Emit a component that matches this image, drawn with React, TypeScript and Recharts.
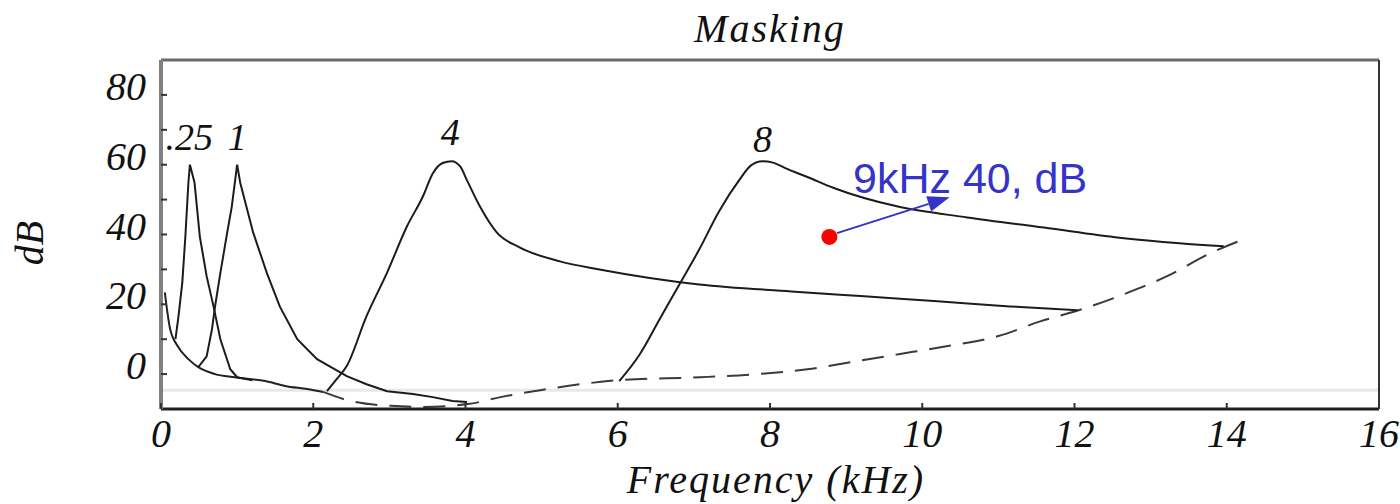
import React from 'react';
import { LineChart, Line, XAxis, YAxis, ReferenceLine, ReferenceDot } from 'recharts';

// threshold in quiet: solid part at low frequencies, dashed above ~2 kHz
const thresholdSolid = [
  { f: 0.05, db: 23.4 }, { f: 0.12, db: 12.9 }, { f: 0.22, db: 8 }, { f: 0.36, db: 4.3 },
  { f: 0.49, db: 2 }, { f: 0.71, db: 0 }, { f: 0.97, db: -0.9 }, { f: 1.37, db: -2 },
  { f: 1.63, db: -3.4 }, { f: 1.92, db: -4.3 }, { f: 2.13, db: -5.1 },
];

const thresholdDashed = [
  { f: 2.13, db: -5.1 }, { f: 2.49, db: -7.7 }, { f: 3.02, db: -9.1 }, { f: 3.45, db: -9.4 },
  { f: 4.03, db: -8.6 }, { f: 4.46, db: -6.6 }, { f: 4.98, db: -4.6 }, { f: 5.51, db: -2.9 },
  { f: 6.03, db: -1.7 }, { f: 7.08, db: -0.9 }, { f: 7.83, db: 0 }, { f: 8.49, db: 1.4 },
  { f: 9.14, db: 3.7 }, { f: 9.69, db: 5.7 }, { f: 10.24, db: 7.7 }, { f: 11.0, db: 10.9 },
  { f: 11.55, db: 15.1 }, { f: 12.1, db: 18.6 }, { f: 12.71, db: 23.4 }, { f: 13.21, db: 28 },
  { f: 13.81, db: 34.9 }, { f: 14.22, db: 38.6 },
];

const masker025 = [
  { f: 0.19, db: 10 }, { f: 0.23, db: 16.6 }, { f: 0.28, db: 26.3 }, { f: 0.32, db: 39.4 },
  { f: 0.36, db: 54.9 }, { f: 0.38, db: 60 }, { f: 0.44, db: 54.9 }, { f: 0.51, db: 39.4 },
  { f: 0.6, db: 28 }, { f: 0.69, db: 19.4 }, { f: 0.78, db: 10 }, { f: 0.91, db: 1.4 },
  { f: 1.0, db: -0.9 }, { f: 1.2, db: -1.8 },
];

const masker1 = [
  { f: 0.49, db: 2 }, { f: 0.6, db: 5.1 }, { f: 0.67, db: 12.9 }, { f: 0.71, db: 19.4 },
  { f: 0.78, db: 29 }, { f: 0.87, db: 40.6 }, { f: 0.93, db: 48 }, { f: 1.0, db: 60 },
  { f: 1.04, db: 54.9 }, { f: 1.21, db: 40.6 }, { f: 1.39, db: 29 }, { f: 1.56, db: 19.4 },
  { f: 1.79, db: 10 }, { f: 2.05, db: 4.3 }, { f: 2.44, db: -0.6 }, { f: 2.7, db: -2.9 },
  { f: 2.97, db: -4.9 }, { f: 3.31, db: -5.7 }, { f: 3.57, db: -6.6 }, { f: 3.83, db: -7.7 },
  { f: 4.02, db: -8 },
];

const masker4 = [
  { f: 2.18, db: -4.9 }, { f: 2.31, db: -1.4 }, { f: 2.44, db: 2.3 }, { f: 2.7, db: 16.6 },
  { f: 2.97, db: 29.1 }, { f: 3.23, db: 42.3 }, { f: 3.44, db: 50.9 }, { f: 3.57, db: 57.5 },
  { f: 3.7, db: 60.5 }, { f: 3.82, db: 61 }, { f: 3.93, db: 59.5 }, { f: 4.02, db: 55.5 },
  { f: 4.19, db: 48 }, { f: 4.41, db: 40.6 }, { f: 4.71, db: 36.3 }, { f: 5.24, db: 32.3 },
  { f: 5.76, db: 30 }, { f: 7.07, db: 25.7 }, { f: 8.28, db: 23.7 }, { f: 9.24, db: 22.3 },
  { f: 10.2, db: 20.9 }, { f: 11.15, db: 19.4 }, { f: 12.04, db: 18.3 },
];

const masker8 = [
  { f: 6.02, db: -2 }, { f: 6.29, db: 5.7 }, { f: 6.55, db: 15.7 }, { f: 6.81, db: 25.7 },
  { f: 7.07, db: 35.7 }, { f: 7.33, db: 46.6 }, { f: 7.6, db: 55.7 }, { f: 7.75, db: 59.8 },
  { f: 7.9, db: 61 }, { f: 8.04, db: 60.6 }, { f: 8.2, db: 59 }, { f: 8.5, db: 56.4 },
  { f: 8.83, db: 53.4 }, { f: 9.68, db: 48 }, { f: 10.59, db: 44.9 }, { f: 11.6, db: 42 },
  { f: 12.59, db: 39.1 }, { f: 13.96, db: 36.6 },
];

const peakLabels = [
  { text: '.25', f: 0.37, db: 64.2 },
  { text: '1', f: 1.0, db: 64.2 },
  { text: '4', f: 3.8, db: 65.6 },
  { text: '8', f: 7.9, db: 63.6 },
];

const freqTicks = [0, 2, 4, 6, 8, 10, 12, 14, 16];
const dbTicks = [0, 10, 20, 30, 40, 50, 60, 70, 80];
const dbLabels = [0, 20, 40, 60, 80];

const probe = { f: 8.78, db: 39.3 };
const probeText = { text: '9kHz 40, dB', f: 9.09, db: 51.9 };
const arrow = [{ x: 8.88, y: 40.4 }, { x: 10.36, y: 50.7 }];

const serif = '"Liberation Serif", "DejaVu Serif", serif';
const blue = '#3434c8';

const FreqTick = (props: any) => {
  const { x, y, payload } = props;
  return (
    <g>
      <line x1={x} x2={x} y1={y} y2={y - 6} stroke="#333" strokeWidth={2} />
      <text x={x} y={y + 38} textAnchor="middle" fontFamily={serif} fontStyle="italic" fontSize={40} fill="#111">
        {payload.value}
      </text>
    </g>
  );
};

const TopTick = (props: any) => {
  const { x, y } = props;
  return <line x1={x} x2={x} y1={y} y2={y + 6} stroke="#333" strokeWidth={2} />;
};

const DbTick = (props: any) => {
  const { x, y, payload } = props;
  return (
    <g>
      <line x1={x} x2={x + 6} y1={y} y2={y} stroke="#333" strokeWidth={2} />
      {dbLabels.includes(payload.value) && (
        <text x={x - 15} y={y + 5} textAnchor="end" fontFamily={serif} fontStyle="italic" fontSize={40} fill="#111">
          {payload.value}
        </text>
      )}
    </g>
  );
};

const ArrowShape = (props: any) => {
  const { x1, y1, x2, y2 } = props;
  const ang = Math.atan2(y2 - y1, x2 - x1);
  const len = 22;
  const half = 8;
  const bx = x2 - len * Math.cos(ang);
  const by = y2 - len * Math.sin(ang);
  const px = -Math.sin(ang) * half;
  const py = Math.cos(ang) * half;
  return (
    <g>
      <line x1={x1} y1={y1} x2={bx} y2={by} stroke={blue} strokeWidth={2} />
      <polygon points={`${x2},${y2} ${bx + px},${by + py} ${bx - px},${by - py}`} fill={blue} />
    </g>
  );
};

const centerOf = (vb: any) => ({ x: vb.x + (vb.width || 0) / 2, y: vb.y + (vb.height || 0) / 2 });

export default function App() {
  return (
    <div style={{ position: 'absolute', left: 0, top: 0 }}>
      <LineChart width={1400} height={504} margin={{ top: 59, right: 20, bottom: 94, left: 160 }}>
        <XAxis
          type="number"
          dataKey="f"
          domain={[0, 16]}
          ticks={freqTicks}
          interval={0}
          height={1}
          tickSize={0}
          tickMargin={0}
          tickLine={false}
          axisLine={{ stroke: '#1e1e1e', strokeWidth: 3 }}
          tick={<FreqTick />}
          label={(p: any) => (
            <text x={p.viewBox.x + p.viewBox.width / 2 + 6} y={493} textAnchor="middle" fontFamily={serif} fontStyle="italic" fontSize={40} letterSpacing={2} fill="#111">
              Frequency (kHz)
            </text>
          )}
        />
        <XAxis
          xAxisId="top"
          orientation="top"
          type="number"
          dataKey="f"
          domain={[0, 16]}
          ticks={freqTicks}
          interval={0}
          height={1}
          tickSize={0}
          tickMargin={0}
          tickLine={false}
          axisLine={{ stroke: '#6a6a6a', strokeWidth: 3 }}
          tick={<TopTick />}
          label={(p: any) => (
            <text x={p.viewBox.x + p.viewBox.width / 2} y={42} textAnchor="middle" fontFamily={serif} fontStyle="italic" fontSize={40} letterSpacing={2} fill="#111">
              Masking
            </text>
          )}
        />
        <YAxis
          type="number"
          domain={[-10, 90]}
          ticks={dbTicks}
          interval={0}
          width={1}
          tickSize={0}
          tickMargin={0}
          tickLine={false}
          axisLine={{ stroke: '#808080', strokeWidth: 4 }}
          tick={<DbTick />}
          label={() => (
            <text transform="translate(43,243) rotate(-90)" textAnchor="middle" fontFamily={serif} fontStyle="italic" fontSize={40} fill="#111">
              dB
            </text>
          )}
        />
        <YAxis
          yAxisId="r"
          orientation="right"
          type="number"
          domain={[-10, 90]}
          width={1}
          tick={false}
          tickLine={false}
          axisLine={{ stroke: '#333', strokeWidth: 2 }}
        />
        <ReferenceLine y={-4.6} stroke="#e8e8e8" strokeWidth={3} />

        <Line data={thresholdSolid} dataKey="db" type="monotone" stroke="#222" strokeWidth={2} dot={false} isAnimationActive={false} />
        <Line data={thresholdDashed} dataKey="db" type="monotone" stroke="#3a3a3a" strokeWidth={2} strokeDasharray="22 12" dot={false} isAnimationActive={false} />
        <Line data={masker025} dataKey="db" type="linear" stroke="#1c1c1c" strokeWidth={2} dot={false} isAnimationActive={false} />
        <Line data={masker1} dataKey="db" type="linear" stroke="#1c1c1c" strokeWidth={2} dot={false} isAnimationActive={false} />
        <Line data={masker4} dataKey="db" type="monotone" stroke="#1c1c1c" strokeWidth={2} dot={false} isAnimationActive={false} />
        <Line data={masker8} dataKey="db" type="monotone" stroke="#1c1c1c" strokeWidth={2} dot={false} isAnimationActive={false} />

        {peakLabels.map((p) => (
          <ReferenceDot
            key={p.text}
            x={p.f}
            y={p.db}
            r={1}
            fill="none"
            stroke="none"
            label={(lp: any) => {
              const c = centerOf(lp.viewBox);
              return (
                <text x={c.x} y={c.y} textAnchor="middle" fontFamily={serif} fontStyle="italic" fontSize={38} fill="#111">
                  {p.text}
                </text>
              );
            }}
          />
        ))}

        <ReferenceLine segment={arrow} shape={(p: any) => <ArrowShape {...p} />} />
        <ReferenceDot x={probe.f} y={probe.db} r={8} fill="#ff0000" stroke="none" />
        <ReferenceDot
          x={probeText.f}
          y={probeText.db}
          r={1}
          fill="none"
          stroke="none"
          label={(lp: any) => {
            const c = centerOf(lp.viewBox);
            return (
              <text x={c.x} y={c.y} textAnchor="start" fontFamily='"Liberation Sans", Arial, sans-serif' fontSize={43} fill={blue}>
                {probeText.text}
              </text>
            );
          }}
        />
      </LineChart>
    </div>
  );
}
